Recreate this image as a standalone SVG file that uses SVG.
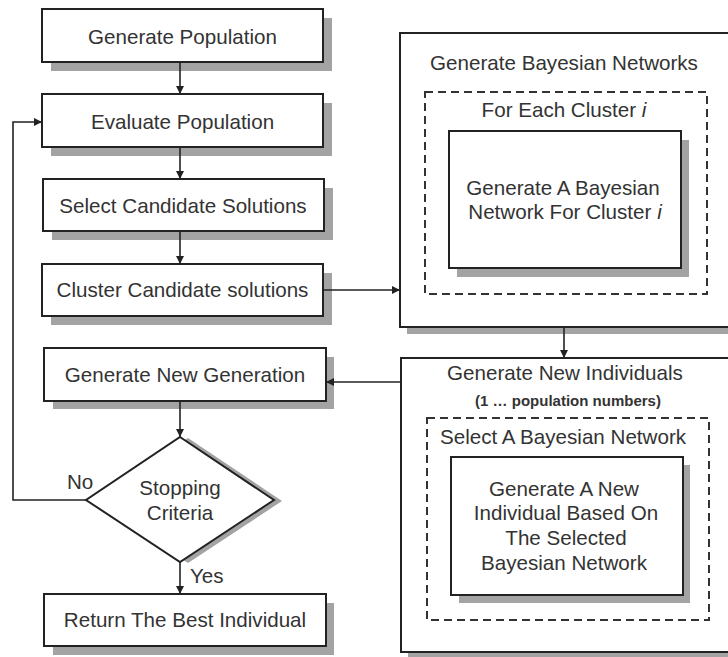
<svg xmlns="http://www.w3.org/2000/svg" width="728" height="657" viewBox="0 0 728 657">
  <defs>
    <style>
      .box { fill: #ffffff; stroke: #222222; stroke-width: 2; }
      .shadow { fill: #a3a3a3; stroke: none; }
      .dash { fill: none; stroke: #333333; stroke-width: 2; stroke-dasharray: 8 5; }
      .wire { fill: none; stroke: #222222; stroke-width: 1.6; }
      text { font-family: "Liberation Sans", Arial, sans-serif; font-size: 20.6px; fill: #333333; text-anchor: middle; }
      .small { font-size: 15px; font-weight: bold; }
      .lbl { text-anchor: start; }
    </style>
    <marker id="arrow" viewBox="0 0 10 10" refX="10" refY="5" markerWidth="9" markerHeight="8" markerUnits="userSpaceOnUse" orient="auto">
      <path d="M0,0 L10,5 L0,10 z" fill="#222222"/>
    </marker>
  </defs>

  <rect width="728" height="657" fill="#ffffff"/>

  <!-- main flow, left column -->
  <g id="generate-population">
    <rect class="shadow" x="51" y="18" width="281" height="53"/>
    <rect class="box" x="42" y="9" width="281" height="53"/>
    <text x="182.5" y="44">Generate Population</text>
  </g>
  <g id="evaluate-population">
    <rect class="shadow" x="51" y="103" width="281" height="53"/>
    <rect class="box" x="42" y="94" width="281" height="53"/>
    <text x="182.5" y="129">Evaluate Population</text>
  </g>
  <g id="select-candidates">
    <rect class="shadow" x="52" y="188" width="281" height="52"/>
    <rect class="box" x="43" y="179" width="281" height="52"/>
    <text x="183" y="213">Select Candidate Solutions</text>
  </g>
  <g id="cluster-candidates">
    <rect class="shadow" x="51" y="273" width="281" height="52"/>
    <rect class="box" x="42" y="264" width="281" height="52"/>
    <text x="182.5" y="297">Cluster Candidate solutions</text>
  </g>
  <g id="generate-new-generation">
    <rect class="shadow" x="53" y="357" width="281" height="52"/>
    <rect class="box" x="44" y="348" width="282" height="53"/>
    <text x="185" y="382">Generate New Generation</text>
  </g>
  <g id="stopping-criteria">
    <polygon class="shadow" points="188,438 282,501 188,563 94,501"/>
    <polygon class="box" points="180,437 274,500 180,562 86,500"/>
    <text x="180" y="495">Stopping</text>
    <text x="180" y="520">Criteria</text>
  </g>
  <g id="return-best">
    <rect class="shadow" x="53" y="603" width="281" height="52"/>
    <rect class="box" x="44" y="594" width="282" height="52"/>
    <text x="185" y="627">Return The Best Individual</text>
  </g>

  <!-- network construction block -->
  <g id="generate-networks">
    <rect class="shadow" x="407" y="42" width="340" height="292"/>
    <rect class="box" x="400" y="33" width="340" height="294"/>
    <text x="564" y="70">Generate Bayesian Networks</text>
    <rect class="dash" x="425" y="92" width="282" height="202"/>
    <text x="564" y="117">For Each Cluster <tspan font-style="italic">i</tspan></text>
    <rect class="shadow" x="457" y="140" width="232" height="137"/>
    <rect class="box" x="449" y="131" width="232" height="137"/>
    <text x="563" y="195">Generate A Bayesian</text>
    <text x="565" y="219">Network For Cluster <tspan font-style="italic">i</tspan></text>
  </g>

  <!-- sampling block -->
  <g id="generate-individuals">
    <rect class="shadow" x="408" y="366" width="340" height="295"/>
    <rect class="box" x="401" y="358" width="340" height="294"/>
    <text x="565" y="380">Generate New Individuals</text>
    <text class="small" x="568" y="406">(1 … population numbers)</text>
    <rect class="dash" x="427" y="418" width="282" height="202"/>
    <text x="563" y="444">Select A Bayesian Network</text>
    <rect class="shadow" x="459" y="465" width="231" height="138"/>
    <rect class="box" x="451" y="457" width="232" height="138"/>
    <text x="564" y="496">Generate A New</text>
    <text x="566" y="520">Individual Based On</text>
    <text x="566" y="545">The Selected</text>
    <text x="564" y="570">Bayesian Network</text>
  </g>

  <!-- connectors -->
  <g id="connectors">
    <line class="wire" x1="180" y1="62" x2="180" y2="94" marker-end="url(#arrow)"/>
    <line class="wire" x1="180" y1="147" x2="180" y2="179" marker-end="url(#arrow)"/>
    <line class="wire" x1="180" y1="231" x2="180" y2="264" marker-end="url(#arrow)"/>
    <line class="wire" x1="323" y1="290" x2="400" y2="290" marker-end="url(#arrow)"/>
    <line class="wire" x1="564" y1="327" x2="564" y2="358" marker-end="url(#arrow)"/>
    <line class="wire" x1="401" y1="382" x2="326" y2="382" marker-end="url(#arrow)"/>
    <line class="wire" x1="180" y1="401" x2="180" y2="437" marker-end="url(#arrow)"/>
    <line class="wire" x1="180" y1="562" x2="180" y2="594" marker-end="url(#arrow)"/>
    <polyline class="wire" points="86,500 13,500 13,122 42,122" marker-end="url(#arrow)"/>
    <text class="lbl" x="67" y="489">No</text>
    <text class="lbl" x="190" y="583">Yes</text>
  </g>
</svg>
